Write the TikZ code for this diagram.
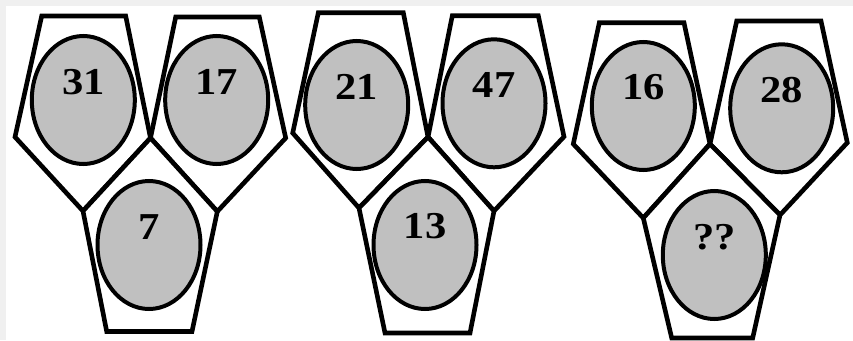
\documentclass[tikz,border=0pt]{standalone}
\usepackage{fontspec}
\usepackage{tikz}
\usetikzlibrary{shapes.geometric}
\newfontfamily\numfont[FakeStretch=1.12]{Liberation Serif}
\definecolor{EggFill}{HTML}{C0C0C0}
\definecolor{PageEdge}{HTML}{F0F0F0}

\begin{document}
\begin{tikzpicture}[x=1pt, y=-1pt,
  cage/.style={draw=black, line width=4.6pt, fill=white},
  egg/.style={ellipse, draw=black, line width=4pt, fill=EggFill, inner sep=0pt,
    minimum width=103pt, minimum height=128pt},
  num/.style={font=\numfont\bfseries\fontsize{38}{38}\selectfont, inner sep=0pt}]
  \useasboundingbox (0,0) rectangle (853,340);
  \fill[PageEdge] (0,0) rectangle (853,340);
  \fill[white] (6,6) rectangle (853,340);
  % first group
  \draw[cage] (41.7,16) -- (125.7,16) -- (150.5,138) -- (83,211) -- (15,137) -- cycle;
  \draw[cage] (175.7,17) -- (259.3,17) -- (285.7,138) -- (217.3,211.5) -- (150.5,138) -- cycle;
  \draw[cage] (150.5,138) -- (217.3,211.5) -- (192,331.5) -- (106.7,331.5) -- (83,211) -- cycle;
  % second group
  \draw[cage] (318.3,12.7) -- (403.3,12.7) -- (428,137) -- (359,208) -- (292.7,133) -- cycle;
  \draw[cage] (452.3,15.7) -- (538.3,15.7) -- (564,136.7) -- (494,211) -- (428,137) -- cycle;
  \draw[cage] (428,137) -- (494,211) -- (470,333) -- (385,333) -- (359,208) -- cycle;
  % third group
  \draw[cage] (599.3,22.7) -- (684,22.7) -- (710,144) -- (643.3,218) -- (573.3,144) -- cycle;
  \draw[cage] (736.7,21) -- (821,21) -- (847.3,142.7) -- (780,215) -- (710,144) -- cycle;
  \draw[cage] (710,144) -- (780,215) -- (752.7,338) -- (671.7,338) -- (643.3,218) -- cycle;

  \node[egg] (e31) at (83.3,100) {};
  \node[egg] (e17) at (216.7,100) {};
  \node[egg] (e7) at (149,245) {};
  \node[egg] (e21) at (356.7,105) {};
  \node[egg] (e47) at (494,103.3) {};
  \node[egg] (e13) at (425,245) {};
  \node[egg] (e16) at (643.3,106) {};
  \node[egg] (e28) at (781.7,108.3) {};
  \node[egg] (eq) at (714.3,255) {};

  \node[num] (n31) at ([yshift=18pt]e31.center) {31};
  \node[num] (n17) at ([yshift=18pt]e17.center) {17};
  \node[num] (n7) at ([yshift=18pt]e7.center) {7};
  \node[num] (n21) at ([yshift=18pt]e21.center) {21};
  \node[num] (n47) at ([yshift=18pt]e47.center) {47};
  \node[num] (n13) at ([yshift=19pt]e13.center) {13};
  \node[num] (n16) at ([yshift=19pt]e16.center) {16};
  \node[num] (n28) at ([yshift=18pt]e28.center) {28};
  \node[num] (nq) at ([yshift=18pt]eq.center) {??};
\end{tikzpicture}
\end{document}
